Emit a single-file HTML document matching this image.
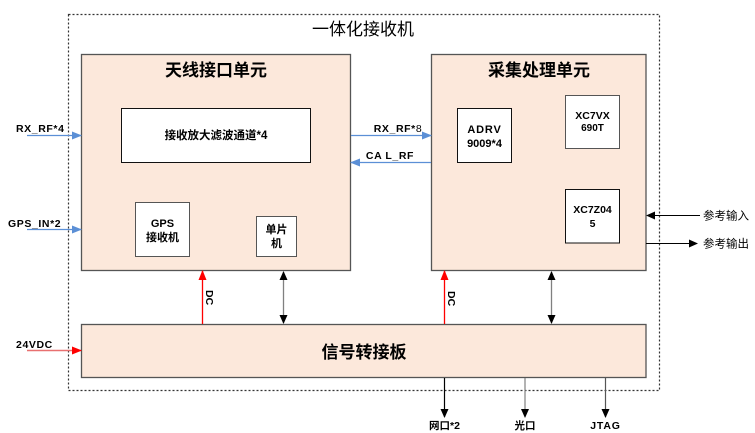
<!DOCTYPE html>
<html><head><meta charset="utf-8"><style>
html,body{margin:0;padding:0;background:#fff;}
svg{display:block;}
text{font-family:"Liberation Sans","Noto Sans CJK SC",sans-serif;fill:#000;}
</style></head><body>
<svg width="755" height="433" viewBox="0 0 755 433" xmlns="http://www.w3.org/2000/svg">
<defs>
<marker id="ab" markerWidth="10" markerHeight="8" refX="9" refY="4" orient="auto" markerUnits="userSpaceOnUse"><path d="M0,0 L10,4 L0,8 z" fill="#5b8fd6"/></marker>
<marker id="ar" markerWidth="10" markerHeight="8" refX="9" refY="4" orient="auto" markerUnits="userSpaceOnUse"><path d="M0,0 L10,4 L0,8 z" fill="#ff0000"/></marker>
<marker id="ak" markerWidth="9" markerHeight="8" refX="8" refY="4" orient="auto" markerUnits="userSpaceOnUse"><path d="M0,0 L9,4 L0,8 z" fill="#000"/></marker>
<marker id="aks" markerWidth="9" markerHeight="8" refX="1" refY="4" orient="auto" markerUnits="userSpaceOnUse"><path d="M9,0 L0,4 L9,8 z" fill="#000"/></marker>
</defs>

<!-- outer dashed box -->
<rect x="68.5" y="14.5" width="591" height="376" fill="none" stroke="#333" stroke-width="1.2" stroke-dasharray="2,2"/>
<text x="363" y="35" font-size="17" text-anchor="middle">一体化接收机</text>

<!-- left unit -->
<rect x="81.5" y="54.5" width="269" height="216" fill="#fce8db" stroke="#555" stroke-width="1.3"/>
<text x="216" y="76" font-size="17" font-weight="bold" text-anchor="middle">天线接口单元</text>
<rect x="121.5" y="108.5" width="189" height="54" fill="#fff" stroke="#111" stroke-width="1"/>
<text x="216" y="139" font-size="11.5" font-weight="bold" text-anchor="middle">接收放大滤波通道*4</text>
<rect x="135.5" y="202.5" width="54" height="54" fill="#fff" stroke="#555" stroke-width="1"/>
<text x="162.5" y="227" font-size="11" font-weight="bold" text-anchor="middle">GPS</text>
<text x="162.5" y="241" font-size="11" font-weight="bold" text-anchor="middle">接收机</text>
<rect x="256.5" y="216.5" width="40" height="40" fill="#fff" stroke="#555" stroke-width="1"/>
<text x="276.5" y="233" font-size="11" font-weight="bold" text-anchor="middle">单片</text>
<text x="276.5" y="247" font-size="11" font-weight="bold" text-anchor="middle">机</text>

<!-- right unit -->
<rect x="431.5" y="54.5" width="214.5" height="216" fill="#fce8db" stroke="#555" stroke-width="1.3"/>
<text x="539" y="76" font-size="17" font-weight="bold" text-anchor="middle">采集处理单元</text>
<rect x="457.5" y="108.5" width="54" height="54" fill="#fff" stroke="#111" stroke-width="1"/>
<text x="484.5" y="133" font-size="11" font-weight="bold" text-anchor="middle" letter-spacing="0.8">ADRV</text>
<text x="484.5" y="147" font-size="11" font-weight="bold" text-anchor="middle">9009*4</text>
<rect x="565.5" y="95.5" width="54" height="53" fill="#fff" stroke="#555" stroke-width="1"/>
<text x="592.5" y="119" font-size="10.5" font-weight="bold" text-anchor="middle">XC7VX</text>
<text x="592.5" y="131" font-size="10" font-weight="bold" text-anchor="middle">690T</text>
<rect x="565.5" y="189.5" width="54" height="53.5" fill="#fff" stroke="#111" stroke-width="1"/>
<text x="592.5" y="213" font-size="10.5" font-weight="bold" text-anchor="middle">XC7Z04</text>
<text x="592.5" y="227" font-size="10.5" font-weight="bold" text-anchor="middle">5</text>

<!-- signal board -->
<rect x="81.5" y="324.5" width="564.5" height="53" fill="#fce8db" stroke="#555" stroke-width="1.3"/>
<text x="364" y="358" font-size="17" font-weight="bold" text-anchor="middle">信号转接板</text>

<!-- left inputs -->
<line x1="27" y1="135.5" x2="81" y2="135.5" stroke="#5b8fd6" stroke-width="1.2" marker-end="url(#ab)"/>
<text x="16" y="132" font-size="10.5" font-weight="bold" letter-spacing="0.6">RX_RF*4</text>
<line x1="27" y1="229.5" x2="81" y2="229.5" stroke="#5b8fd6" stroke-width="1.2" marker-end="url(#ab)"/>
<text x="8" y="227" font-size="10.5" font-weight="bold" letter-spacing="0.6">GPS_IN*2</text>
<line x1="27" y1="350.5" x2="81" y2="350.5" stroke="#e87070" stroke-width="1.5" marker-end="url(#ar)"/>
<text x="16" y="348" font-size="10.5" font-weight="bold" letter-spacing="0.6">24VDC</text>

<!-- between units -->
<line x1="351" y1="135.5" x2="431" y2="135.5" stroke="#5b8fd6" stroke-width="1.2" marker-end="url(#ab)"/>
<text x="398" y="132" font-size="10.5" text-anchor="middle" letter-spacing="0.6"><tspan font-weight="bold">RX_RF*</tspan>8</text>
<line x1="431" y1="162.5" x2="351" y2="162.5" stroke="#5b8fd6" stroke-width="1.2" marker-end="url(#ab)"/>
<text x="390" y="159" font-size="10.5" font-weight="bold" text-anchor="middle" letter-spacing="0.6">CA L_RF</text>

<!-- DC arrows -->
<line x1="202.5" y1="324" x2="202.5" y2="271" stroke="#ff0000" stroke-width="1.3" marker-end="url(#ar)"/>
<text x="0" y="0" font-size="10.5" font-weight="bold" transform="translate(206,290) rotate(90)">DC</text>
<line x1="444.5" y1="324" x2="444.5" y2="271" stroke="#ff0000" stroke-width="1.3" marker-end="url(#ar)"/>
<text x="0" y="0" font-size="10.5" font-weight="bold" transform="translate(448,291) rotate(90)">DC</text>

<!-- bidirectional -->
<line x1="283.5" y1="272" x2="283.5" y2="323" stroke="#808080" stroke-width="1.3" marker-start="url(#aks)" marker-end="url(#ak)"/>
<line x1="551.5" y1="272" x2="551.5" y2="323" stroke="#808080" stroke-width="1.3" marker-start="url(#aks)" marker-end="url(#ak)"/>

<!-- reference in/out -->
<line x1="700" y1="215.5" x2="647" y2="215.5" stroke="#000" stroke-width="1" marker-end="url(#ak)"/>
<text x="703" y="219.5" font-size="11.5">参考输入</text>
<line x1="646" y1="243.5" x2="697" y2="243.5" stroke="#000" stroke-width="1" marker-end="url(#ak)"/>
<text x="703" y="247.5" font-size="11.5">参考输出</text>

<!-- bottom outputs -->
<line x1="444.5" y1="378" x2="444.5" y2="417" stroke="#000" stroke-width="1.2" marker-end="url(#ak)"/>
<text x="444.5" y="429" font-size="10.5" font-weight="bold" text-anchor="middle">网口*2</text>
<line x1="525" y1="378" x2="525" y2="417" stroke="#808080" stroke-width="1.2" marker-end="url(#ak)"/>
<text x="525" y="429" font-size="10.5" font-weight="bold" text-anchor="middle">光口</text>
<line x1="605.5" y1="378" x2="605.5" y2="417" stroke="#555" stroke-width="1.2" marker-end="url(#ak)"/>
<text x="605.5" y="429" font-size="10.5" font-weight="bold" text-anchor="middle" letter-spacing="0.8">JTAG</text>
</svg>
</body></html>
